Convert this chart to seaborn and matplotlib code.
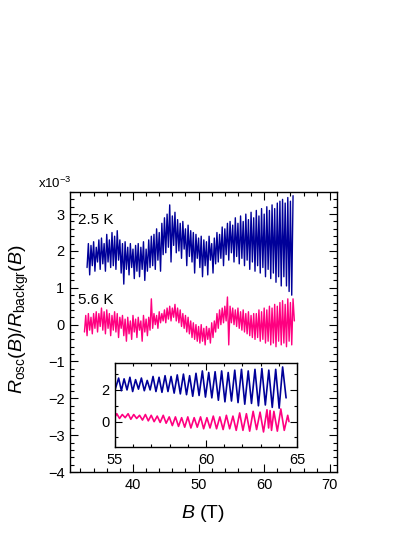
import numpy as np
import pandas as pd
import matplotlib
matplotlib.use("Agg")
import matplotlib.pyplot as plt
import seaborn as sns
from matplotlib.ticker import MultipleLocator, FixedLocator

sns.set_theme(style="ticks")
plt.rcParams['font.family'] = ['Liberation Sans', 'DejaVu Sans']
plt.rcParams['mathtext.fontset'] = 'custom'
plt.rcParams['mathtext.rm'] = 'Liberation Sans'
plt.rcParams['mathtext.it'] = 'Liberation Sans:italic'
plt.rcParams['mathtext.bf'] = 'Liberation Sans:bold'

# ---------------- data (units of 1e-3) ----------------
labels = ["2.5 K", "5.6 K"]
colors = ["#000099", "#FF0080"]

# main panel: sampled every 0.2 T
main_25K_start, main_25K_step = 33.0, 0.2
main_25K = [
    1.55, 2.2, 1.35, 2.15, 1.6, 2.25, 1.45, 2.1, 1.7, 2.3,
    1.5, 2.35, 1.65, 2.2, 1.45, 2.45, 1.7, 2.3, 1.55, 2.5,
    1.6, 2.4, 1.5, 2.55, 1.75, 2.3, 1.4, 2.2, 1.1, 2.25,
    1.5, 2.1, 1.35, 2.2, 1.55, 2.05, 1.25, 2.15, 1.45, 2.2,
    1.3, 2.1, 1.5, 2.25, 1.2, 2.05, 1.45, 2.3, 1.55, 2.4,
    1.6, 2.45, 1.5, 2.6, 1.75, 2.5, 1.45, 2.75, 1.9, 2.9,
    1.95, 3.0, 2.1, 3.25, 1.7, 2.95, 2.15, 3.05, 1.95, 2.85,
    2.0, 2.75, 1.8, 2.8, 2.05, 2.6, 1.6, 2.7, 1.85, 2.55,
    1.7, 2.5, 1.4, 2.45, 1.8, 2.35, 1.55, 2.4, 1.3, 2.3,
    1.6, 2.25, 1.35, 2.4, 1.75, 2.2, 1.4, 2.35, 1.65, 2.5,
    1.7, 2.45, 1.8, 2.65, 1.6, 2.6, 1.9, 2.75, 1.75, 2.8,
    1.95, 2.7, 1.7, 2.9, 1.85, 2.75, 1.65, 2.95, 1.8, 2.8,
    1.6, 3.0, 1.75, 2.85, 1.5, 3.05, 1.7, 2.9, 1.45, 3.1,
    1.6, 2.95, 1.4, 3.15, 1.55, 3.0, 1.3, 3.2, 1.5, 3.1,
    1.25, 3.25, 1.4, 3.15, 1.15, 3.3, 1.3, 3.35, 1.05, 3.4,
    1.3, 3.3, 1.05, 3.45, 0.9, 3.35, 0.8, 3.5,
]

main_56K_start, main_56K_step = 32.6, 0.2
main_56K = [
    -0.2, 0.25, -0.3, 0.3, -0.15, 0.2, -0.25, 0.3, -0.1, 0.35,
    -0.2, 0.3, -0.05, 0.45, -0.15, 0.35, -0.25, 0.4, -0.1, 0.3,
    -0.3, 0.25, -0.15, 0.35, -0.2, 0.3, -0.35, 0.2, -0.1, 0.25,
    -0.3, 0.15, -0.45, 0.2, -0.25, 0.1, -0.4, 0.25, -0.2, 0.15,
    -0.35, 0.2, -0.15, 0.1, -0.45, 0.25, -0.2, 0.15, -0.3, 0.2,
    -0.15, 0.7, -0.1, 0.3, 0.0, 0.25, -0.1, 0.35, 0.05, 0.3,
    0.1, 0.4, 0.05, 0.45, 0.15, 0.5, 0.1, 0.45, 0.2, 0.55,
    0.1, 0.45, 0.05, 0.4, -0.05, 0.3, -0.1, 0.25, -0.2, 0.2,
    -0.25, 0.1, -0.35, 0.05, -0.4, 0.0, -0.45, -0.05, -0.5, 0.0,
    -0.45, -0.1, -0.55, -0.05, -0.4, -0.1, -0.5, 0.05, -0.35, 0.1,
    -0.2, 0.3, -0.1, 0.4, 0.0, 0.45, 0.05, 0.5, 0.1, 0.75,
    -0.55, 0.5, 0.05, 0.45, 0.0, 0.4, -0.05, 0.45, -0.1, 0.35,
    -0.15, 0.4, -0.2, 0.3, -0.25, 0.35, -0.3, 0.25, -0.35, 0.3,
    -0.4, 0.3, -0.35, 0.4, -0.45, 0.35, -0.4, 0.45, -0.5, 0.4,
    -0.45, 0.5, -0.55, 0.45, -0.5, 0.55, -0.6, 0.5, -0.45, 0.6,
    -0.55, 0.65, -0.5, 0.55, -0.6, 0.7, -0.45, 0.6, -0.55, 0.7,
    0.1,
]

# inset: oscillation extrema
inset_25K_B = [
    55.0, 55.2, 55.35, 55.5, 55.66, 55.82, 55.97, 56.13, 56.29, 56.45,
    56.61, 56.77, 56.93, 57.09, 57.25, 57.42, 57.58, 57.75, 57.91, 58.08,
    58.25, 58.42, 58.59, 58.76, 58.93, 59.1, 59.27, 59.45, 59.62, 59.8,
    59.97, 60.15, 60.32, 60.5, 60.68, 60.86, 61.04, 61.22, 61.4, 61.58,
    61.76, 61.95, 62.13, 62.32, 62.5, 62.69, 62.88, 63.07, 63.26, 63.45,
    63.64, 63.83, 64.02, 64.21, 64.4,
]
inset_25K = [
    2.0, 2.75, 1.95, 2.7, 2.0, 2.8, 1.9, 2.65, 2.05, 2.75,
    1.95, 2.6, 2.0, 2.85, 1.9, 2.8, 1.85, 2.9, 1.9, 2.85,
    1.8, 2.95, 1.75, 3.0, 1.7, 2.9, 1.6, 3.05, 1.65, 3.2,
    1.55, 3.1, 1.5, 3.15, 1.35, 3.2, 1.25, 3.1, 1.3, 3.25,
    1.2, 3.3, 1.1, 3.2, 1.15, 3.3, 1.0, 3.35, 1.05, 3.25,
    0.9, 3.3, 0.85, 3.45, 1.5,
]

inset_56K_B = [
    55.0, 55.1, 55.25, 55.4, 55.56, 55.72, 55.87, 56.03, 56.19, 56.35,
    56.51, 56.67, 56.83, 56.99, 57.15, 57.32, 57.48, 57.65, 57.81, 57.98,
    58.15, 58.32, 58.49, 58.66, 58.83, 59.0, 59.17, 59.35, 59.52, 59.7,
    59.87, 60.05, 60.22, 60.4, 60.58, 60.76, 60.94, 61.12, 61.3, 61.48,
    61.66, 61.85, 62.03, 62.22, 62.4, 62.59, 62.78, 62.97, 63.16, 63.35,
    63.44, 63.52, 63.6, 63.73, 63.92, 64.11, 64.3, 64.49, 64.56,
]
inset_56K = [
    0.3, 0.5, 0.2, 0.45, 0.25, 0.5, 0.15, 0.45, 0.2, 0.4,
    0.1, 0.45, 0.05, 0.4, 0.0, 0.35, -0.05, 0.4, -0.1, 0.3,
    -0.25, 0.3, -0.3, 0.25, -0.35, 0.3, -0.4, 0.25, -0.35, 0.3,
    -0.45, 0.25, -0.4, 0.35, -0.45, 0.3, -0.5, 0.4, -0.45, 0.35,
    -0.55, 0.55, -0.55, 0.5, -0.6, 0.65, -0.5, 0.6, -0.65, 0.75,
    -0.4, 0.7, -0.55, 0.65, -0.6, 0.8, -0.55, 0.4, 0.0,
]

main_xticks = [40, 50, 60, 70]
main_yticks = [-4, -3, -2, -1, 0, 1, 2, 3]
inset_xticks = [55, 60, 65]
inset_yticks = [0, 2]

# ---------------- build frames ----------------
df_main = pd.concat([
    pd.DataFrame({"B": main_25K_start + main_25K_step * np.arange(len(main_25K)),
                  "R": main_25K, "T": labels[0]}),
    pd.DataFrame({"B": main_56K_start + main_56K_step * np.arange(len(main_56K)),
                  "R": main_56K, "T": labels[1]}),
], ignore_index=True)
df_inset = pd.concat([
    pd.DataFrame({"B": inset_25K_B, "R": inset_25K, "T": labels[0]}),
    pd.DataFrame({"B": inset_56K_B, "R": inset_56K, "T": labels[1]}),
], ignore_index=True)
pal = dict(zip(labels, colors))

# ---------------- figure ----------------
fig = plt.figure(figsize=(4.15, 5.37), dpi=100)
fig.patch.set_facecolor("white")
ax = fig.add_axes([70/415, 1 - 472/537, 267/415, 280/537])

sns.lineplot(data=df_main, x="B", y="R", hue="T", palette=pal, estimator=None,
             sort=False, linewidth=1.0, legend=False, ax=ax)

ax.set_xlim(30.4, 71.1)
ax.set_ylim(-4, 3.6)
ax.xaxis.set_major_locator(FixedLocator(main_xticks))
ax.xaxis.set_minor_locator(MultipleLocator(2))
ax.yaxis.set_major_locator(FixedLocator(main_yticks))
ax.yaxis.set_minor_locator(MultipleLocator(0.2))
ax.tick_params(which="both", direction="in", top=True, right=True,
               colors="black", labelsize=10.5, width=0.8)
ax.tick_params(which="major", length=5.5, pad=4)
ax.tick_params(which="minor", length=3)
for s in ax.spines.values():
    s.set_color("black")
    s.set_linewidth(1.0)

ax.set_xlabel("$B$ (T)", fontsize=14, color="black")
ax.set_ylabel(r"$R_{\mathrm{osc}}(B)/R_{\mathrm{backgr}}(B)$", fontsize=14, color="black")
ax.xaxis.set_label_coords(0.498, -0.11)
ax.yaxis.set_label_coords(-0.146, 0.546)

ax.text(31.6, 2.84, labels[0], fontsize=11, va="center", ha="left", color="black")
ax.text(31.6, 0.67, labels[1], fontsize=11, va="center", ha="left", color="black")
fig.text(38/415, 1 - 183/537, r"x10$^{\mathrm{-3}}$", fontsize=9.5, va="center",
         ha="left", color="black")

# inset
axi = fig.add_axes([115/415, 1 - 447/537, 182/415, 84/537])
axi.set_facecolor("white")
sns.lineplot(data=df_inset, x="B", y="R", hue="T", palette=pal, estimator=None,
             sort=False, linewidth=1.2, legend=False, ax=axi)
axi.set_xlim(55, 65)
axi.set_ylim(-1.6, 3.7)
axi.xaxis.set_major_locator(FixedLocator(inset_xticks))
axi.xaxis.set_minor_locator(MultipleLocator(1))
axi.yaxis.set_major_locator(FixedLocator(inset_yticks))
axi.yaxis.set_minor_locator(MultipleLocator(1))
axi.tick_params(which="both", direction="in", top=True, right=True,
                colors="black", labelsize=10.5, width=0.8)
axi.tick_params(which="major", length=5, pad=4)
axi.tick_params(which="minor", length=2.5)
axi.set_xlabel("")
axi.set_ylabel("")
for s in axi.spines.values():
    s.set_color("black")
    s.set_linewidth(1.0)

fig.savefig("out.png", dpi=100, facecolor="white")
